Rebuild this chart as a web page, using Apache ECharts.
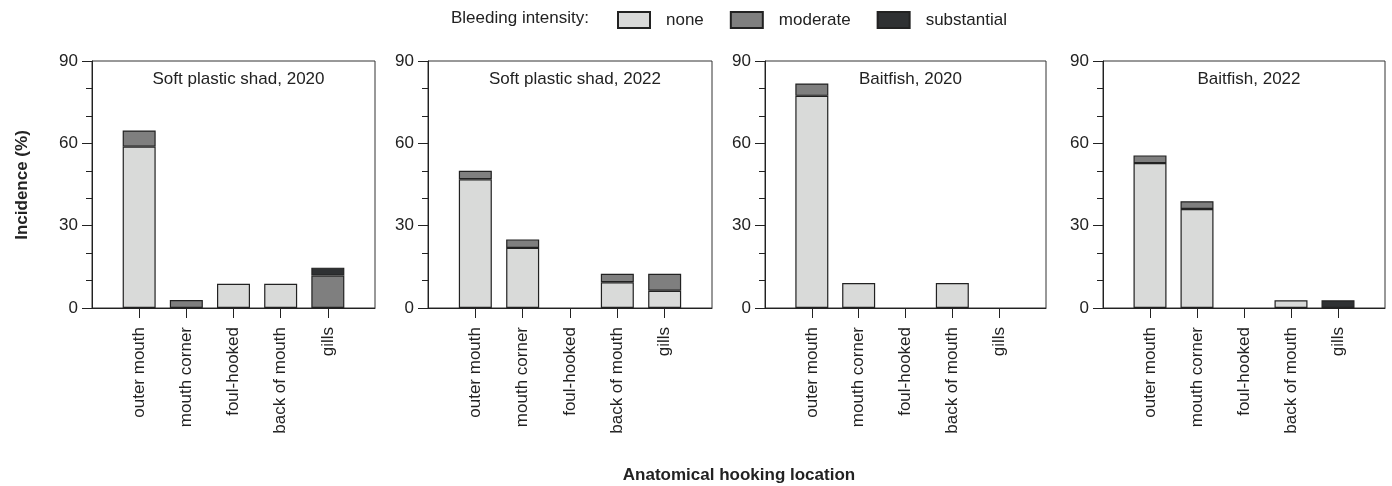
<!DOCTYPE html>
<html>
<head>
<meta charset="utf-8">
<script src="https://cdn.jsdelivr.net/npm/echarts@6/dist/echarts.min.js"></script>
<style>
	html, body { margin: 0; padding: 0; background: #fff; }
	#chart { width: 1392px; height: 486px; }
</style>
</head>
<body>
<div id="chart"></div>
<script type="text/javascript">
// 数据（百分比）
var locations = ['outer mouth', 'mouth corner', 'foul-hooked', 'back of mouth', 'gills'];
var panelTitles = ['Soft plastic shad, 2020', 'Soft plastic shad, 2022', 'Baitfish, 2020', 'Baitfish, 2022'];
var intensities = ['none', 'moderate', 'substantial'];

var shad2020None = [58.8, 0, 8.8, 8.8, 0];
var shad2020Moderate = [5.9, 2.9, 0, 0, 11.8];
var shad2020Substantial = [0, 0, 0, 0, 2.9];

var shad2022None = [46.9, 21.9, 0, 9.4, 6.3];
var shad2022Moderate = [3.1, 3.1, 0, 3.1, 6.2];
var shad2022Substantial = [0, 0, 0, 0, 0];

var bait2020None = [77.3, 9.1, 0, 9.1, 0];
var bait2020Moderate = [4.5, 0, 0, 0, 0];
var bait2020Substantial = [0, 0, 0, 0, 0];

var bait2022None = [52.8, 36.1, 0, 2.8, 0];
var bait2022Moderate = [2.8, 2.8, 0, 0, 0];
var bait2022Substantial = [0, 0, 0, 0, 2.8];

var yTicks = [0, 30, 60, 90];

var panelData = [
	[shad2020None, shad2020Moderate, shad2020Substantial],
	[shad2022None, shad2022Moderate, shad2022Substantial],
	[bait2020None, bait2020Moderate, bait2020Substantial],
	[bait2022None, bait2022Moderate, bait2022Substantial]
];

var colors = ['#d9dad9', '#7f7f7f', '#2f3133'];
var font = '"Liberation Sans", Arial, sans-serif';
var textColor = '#222';
var lefts = [92, 428, 765, 1103];
var widths = [283, 284, 281, 282];

// x 轴两端留空位
var xCats = [''].concat(locations, ['']);
function padData(arr) {
	var out = [null];
	for (var i = 0; i < arr.length; i++) {
		out.push(arr[i] ? arr[i] : null);
	}
	out.push(null);
	return out;
}
function innerIdx(i) { return i > 0 && i < xCats.length - 1; }

var grids = [], xAxes = [], yAxes = [], series = [], titles = [];
for (var p = 0; p < 4; p++) {
	grids.push({
		left: lefts[p], top: 61, width: widths[p], height: 247,
		show: true, borderColor: '#333', borderWidth: 1, backgroundColor: 'transparent'
	});
	titles.push({
		text: panelTitles[p],
		left: lefts[p] + widths[p] / 2, top: 66, textAlign: 'center',
		textStyle: { fontFamily: font, fontSize: 17, fontWeight: 'normal', color: textColor }
	});
	xAxes.push({
		type: 'category', gridIndex: p, data: xCats, boundaryGap: false,
		axisLine: { lineStyle: { color: '#222', width: 1 } },
		axisTick: { length: 10, interval: innerIdx, lineStyle: { color: '#222' } },
		axisLabel: {
			interval: innerIdx, rotate: 90, margin: 19,
			fontFamily: font, fontSize: 17, color: textColor
		},
		splitLine: { show: false }
	});
	yAxes.push({
		type: 'value', gridIndex: p, min: 0, max: 90, interval: 30,
		axisLine: { show: true, lineStyle: { color: '#222', width: 1 } },
		axisTick: { show: true, length: 10, lineStyle: { color: '#222' } },
		minorTick: { show: true, splitNumber: 3, length: 6, lineStyle: { color: '#222' } },
		axisLabel: {
			margin: 14, fontFamily: font, fontSize: 17, color: textColor,
			formatter: function (v) { return yTicks.indexOf(v) >= 0 ? v : ''; }
		},
		splitLine: { show: false }
	});
	for (var s = 0; s < 3; s++) {
		series.push({
			name: intensities[s], type: 'bar', stack: 'panel' + p,
			xAxisIndex: p, yAxisIndex: p, barWidth: 33,
			data: padData(panelData[p][s]),
			itemStyle: { color: colors[s], borderColor: '#222', borderWidth: 1.2 },
			emphasis: { disabled: true },
			animation: false
		});
	}
}

var myChart = echarts.init(document.getElementById('chart'));
myChart.setOption({
	animation: false,
	title: titles,
	legend: {
		data: intensities, left: 617, top: 11, padding: 0,
		icon: 'rect',
		itemWidth: 32, itemHeight: 16, itemGap: 26,
		textStyle: { fontFamily: font, fontSize: 17, color: textColor, padding: [0, 0, 0, 11] }
	},
	grid: grids,
	xAxis: xAxes,
	yAxis: yAxes,
	series: series,
	graphic: [
		{
			type: 'text', left: 451, top: 10,
			style: { text: 'Bleeding intensity:', font: '17px ' + font, fill: textColor }
		},
		{
			type: 'text', x: 22, y: 185, rotation: Math.PI / 2,
			style: { text: 'Incidence (%)', font: 'bold 17px ' + font, fill: textColor, align: 'center', verticalAlign: 'middle' }
		},
		{
			type: 'text', x: 739, y: 475,
			style: { text: 'Anatomical hooking location', font: 'bold 17px ' + font, fill: textColor, align: 'center', verticalAlign: 'middle' }
		}
	]
});
</script>
</body>
</html>
